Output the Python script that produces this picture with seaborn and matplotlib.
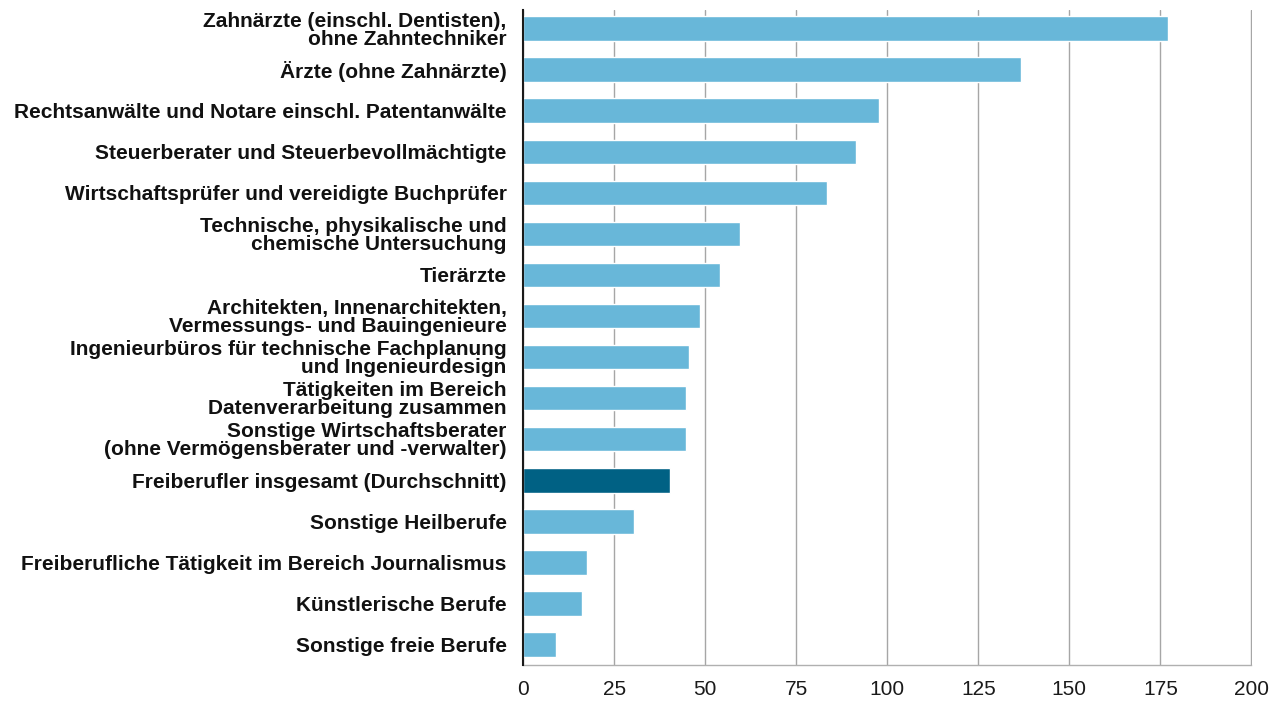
import matplotlib
matplotlib.use("Agg")
import matplotlib.pyplot as plt
import seaborn as sns
import pandas as pd

categories = [
    "Zahnärzte (einschl. Dentisten),\nohne Zahntechniker",
    "Ärzte (ohne Zahnärzte)",
    "Rechtsanwälte und Notare einschl. Patentanwälte",
    "Steuerberater und Steuerbevollmächtigte",
    "Wirtschaftsprüfer und vereidigte Buchprüfer",
    "Technische, physikalische und\nchemische Untersuchung",
    "Tierärzte",
    "Architekten, Innenarchitekten,\nVermessungs- und Bauingenieure",
    "Ingenieurbüros für technische Fachplanung\nund Ingenieurdesign",
    "Tätigkeiten im Bereich\nDatenverarbeitung zusammen",
    "Sonstige Wirtschaftsberater\n(ohne Vermögensberater und -verwalter)",
    "Freiberufler insgesamt (Durchschnitt)",
    "Sonstige Heilberufe",
    "Freiberufliche Tätigkeit im Bereich Journalismus",
    "Künstlerische Berufe",
    "Sonstige freie Berufe",
]
values = [177.1, 136.6, 97.6, 91.4, 83.4, 59.5, 54.0, 48.6, 45.6, 44.8, 44.8,
          40.4, 30.3, 17.4, 16.0, 8.9]
highlight = "Freiberufler insgesamt (Durchschnitt)"
x_ticks = [0, 25, 50, 75, 100, 125, 150, 175, 200]

LIGHT = "#68b7d9"
DARK = "#006184"

df = pd.DataFrame({"kategorie": categories, "wert": values})
palette = {c: (DARK if c == highlight else LIGHT) for c in categories}

sns.set_style("white")
plt.rcParams["font.family"] = ["Liberation Sans", "DejaVu Sans"]

fig = plt.figure(figsize=(12.78, 7.04), dpi=100)
ax = fig.add_axes([0.4095, 0.0555, 0.5705, 0.93])

sns.barplot(data=df, x="wert", y="kategorie", hue="kategorie", palette=palette,
            legend=False, width=0.6, saturation=1, ax=ax, zorder=3)

ax.set_xlim(0, 200.3)
ax.set_ylim(15.5, -0.45)
ax.set_xticks(x_ticks)
ax.set_xlabel("")
ax.set_ylabel("")

ax.grid(axis="x", color="#a6a6a6", linewidth=1, zorder=0)
ax.grid(axis="y", visible=False)
ax.set_axisbelow(True)

for s in ["top", "right"]:
    ax.spines[s].set_visible(False)
ax.spines["left"].set_color("#1a1a1a")
ax.spines["left"].set_linewidth(1.5)
ax.spines["left"].set_zorder(4)
ax.spines["bottom"].set_color("#b0b0b0")
ax.spines["bottom"].set_linewidth(1)
ax.spines["bottom"].set_bounds(0, 200)

ax.tick_params(axis="y", length=0, pad=12)
ax.tick_params(axis="x", length=6, width=1, color="#b0b0b0", pad=5,
               labelsize=15, labelcolor="#1a1a1a")
for lbl in ax.get_yticklabels():
    lbl.set_fontsize(15)
    lbl.set_fontweight("bold")
    lbl.set_color("#111111")
    lbl.set_linespacing(0.93)

fig.savefig("out.png", dpi=100)
